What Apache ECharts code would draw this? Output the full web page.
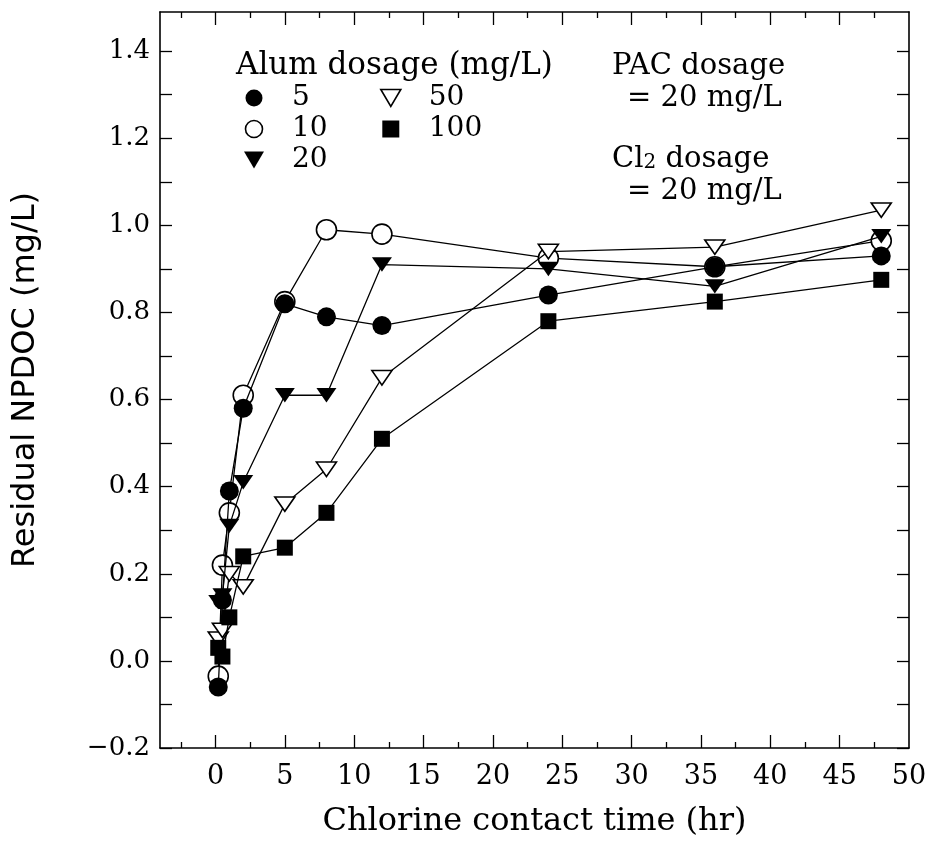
<!DOCTYPE html>
<html><head><meta charset="utf-8">
<script src="https://cdn.jsdelivr.net/npm/echarts@6/dist/echarts.min.js"></script>
<style>html,body{margin:0;padding:0;background:#fff}#c{width:931px;height:858px}</style>
</head><body><div id="c"></div>
<script>
// ---- data ----
const times    = [0.2, 0.5, 1, 2, 5, 8, 12, 24, 36, 48];
const alum5    = [-0.06, 0.14, 0.39, 0.58, 0.82, 0.79, 0.77, 0.84, 0.905, 0.93];
const alum10   = [-0.035, 0.22, 0.34, 0.61, 0.825, 0.99, 0.98, 0.925, 0.905, 0.965];
const alum20   = [0.135, 0.15, 0.31, 0.41, 0.61, 0.61, 0.91, 0.90, 0.86, 0.975];
const alum50   = [0.05, 0.07, 0.20, 0.17, 0.36, 0.44, 0.65, 0.94, 0.95, 1.035];
const alum100  = [0.03, 0.01, 0.10, 0.24, 0.26, 0.34, 0.51, 0.78, 0.825, 0.875];
const seriesNames = ['5', '10', '20', '50', '100'];

const xLabelTicks = [0, 5, 10, 15, 20, 25, 30, 35, 40, 45, 50];
const xMajorTicks = [0, 5, 10, 15, 20, 25, 30, 35, 40, 45];
const xMinorTicks = [-2.5, 2.5, 7.5, 12.5, 17.5, 22.5, 27.5, 32.5, 37.5, 42.5, 47.5];
const yLabelTicks = [-0.2, 0.0, 0.2, 0.4, 0.6, 0.8, 1.0, 1.2, 1.4];
const yTicks = [-0.2, -0.1, 0.0, 0.1, 0.2, 0.3, 0.4, 0.5, 0.6, 0.7, 0.8, 0.9, 1.0, 1.1, 1.2, 1.3, 1.4];

const SERIF = 'DejaVu Serif';
const SANS = 'DejaVu Sans';
const TRI = 'path://M0,0L20,0L10,17Z';
const SQ = 'path://M0,0L10,0L10,10L0,10Z';

const chart = echarts.init(document.getElementById('c'));

const lineAx = { show: true, onZero: false, lineStyle: { color: '#000', width: 1.6 } };
const tickStyle = { color: '#000', width: 1.3 };

function xAx(pos, major, withLabels) {
  return {
    type: 'value', position: pos, min: -4, max: 50,
    axisLine: major ? lineAx : { show: false, onZero: false },
    axisTick: { show: true, inside: true, length: major ? 13 : 6,
      customValues: major ? xMajorTicks : xMinorTicks, lineStyle: tickStyle },
    axisLabel: withLabels ? { show: true, customValues: xLabelTicks, margin: 15,
      color: '#000', fontFamily: SERIF, fontSize: 27 } : { show: false },
    splitLine: { show: false }
  };
}
function yAx(pos, withLabels) {
  return {
    type: 'value', position: pos, min: -0.2, max: 1.49,
    axisLine: lineAx,
    axisTick: { show: true, inside: true, length: 12, customValues: yTicks, lineStyle: tickStyle },
    axisLabel: withLabels ? { show: true, customValues: yLabelTicks, margin: 10,
      color: '#000', fontFamily: SERIF, fontSize: 26,
      formatter: v => (v < 0 ? '\u2212' + Math.abs(v).toFixed(1) : v.toFixed(1)) } : { show: false },
    splitLine: { show: false }
  };
}

const xBottom = xAx('bottom', true, true);
xBottom.name = 'Chlorine contact time (hr)';
xBottom.nameLocation = 'middle';
xBottom.nameGap = 58;
xBottom.nameTextStyle = { color: '#000', fontFamily: SERIF, fontSize: 32 };

const yLeft = yAx('left', true);
yLeft.name = 'Residual NPDOC (mg/L)';
yLeft.nameLocation = 'middle';
yLeft.nameRotate = 90;
yLeft.nameGap = 118;
yLeft.nameTextStyle = { color: '#000', fontFamily: SANS, fontSize: 32 };

function mk(name, vals, symbol, size, filled, z) {
  return {
    type: 'line', name: name, xAxisIndex: 0, yAxisIndex: 0,
    data: times.map((t, i) => [t, vals[i]]),
    symbol: symbol, symbolSize: size, symbolKeepAspect: true, showSymbol: true,
    lineStyle: { color: '#000', width: 1.3 },
    itemStyle: filled ? { color: '#000', borderWidth: 0 } : { color: '#fff', borderColor: '#000', borderWidth: 1.6 },
    emphasis: { disabled: true }, z: z
  };
}

const filledStyle = { color: '#000', borderWidth: 0 };
const openStyle = { color: '#fff', borderColor: '#000', borderWidth: 1.6 };
const legText = { color: '#000', fontFamily: SERIF, fontSize: 28, lineHeight: 17 };

chart.setOption({
  animation: false,
  backgroundColor: '#fff',
  grid: { left: 160, right: 22, top: 12, bottom: 110, outerBoundsMode: 'none', containLabel: false },
  xAxis: [xBottom, xAx('bottom', false, false), xAx('top', true, false), xAx('top', false, false)],
  yAxis: [yLeft, yAx('right', false)],
  legend: [
    { orient: 'vertical', left: 244, top: 84, padding: 0, itemWidth: 66, itemHeight: 17, itemGap: 3,
      selectedMode: false, textStyle: legText,
      data: [
        { name: seriesNames[0], icon: 'circle', itemStyle: filledStyle },
        { name: seriesNames[1], icon: 'circle', itemStyle: openStyle },
        { name: seriesNames[2], icon: TRI, itemStyle: filledStyle }
      ] },
    { orient: 'vertical', left: 380, top: 84, padding: 0, itemWidth: 66, itemHeight: 17, itemGap: 3,
      selectedMode: false, textStyle: legText,
      data: [
        { name: seriesNames[3], icon: TRI, itemStyle: openStyle },
        { name: seriesNames[4], icon: SQ, itemStyle: filledStyle }
      ] }
  ],
  graphic: [
    { type: 'text', left: 236, top: 50, style: { text: 'Alum dosage (mg/L)', font: '31px "DejaVu Serif"', fill: '#000' } },
    { type: 'text', left: 612, top: 52, style: { text: 'PAC dosage', font: '29px "DejaVu Serif"', fill: '#000' } },
    { type: 'text', left: 627, top: 84, style: { text: '= 20 mg/L', font: '29px "DejaVu Serif"', fill: '#000' } },
    { type: 'text', left: 612, top: 145, style: { text: '{a|Cl}{b|2}{a| dosage}', fill: '#000',
        rich: { a: { font: '29px "DejaVu Serif"', fill: '#000' }, b: { font: '20px "DejaVu Serif"', fill: '#000', padding: [6, 0, 0, 0] } } } },
    { type: 'text', left: 627, top: 177, style: { text: '= 20 mg/L', font: '29px "DejaVu Serif"', fill: '#000' } }
  ],
  series: [
    mk(seriesNames[1], alum10, 'circle', 20, false, 2),
    mk(seriesNames[0], alum5, 'circle', 19, true, 3),
    mk(seriesNames[3], alum50, TRI, [20, 17], false, 4),
    mk(seriesNames[2], alum20, TRI, [20, 17], true, 5),
    mk(seriesNames[4], alum100, SQ, 16, true, 6)
  ]
});
</script></body></html>
